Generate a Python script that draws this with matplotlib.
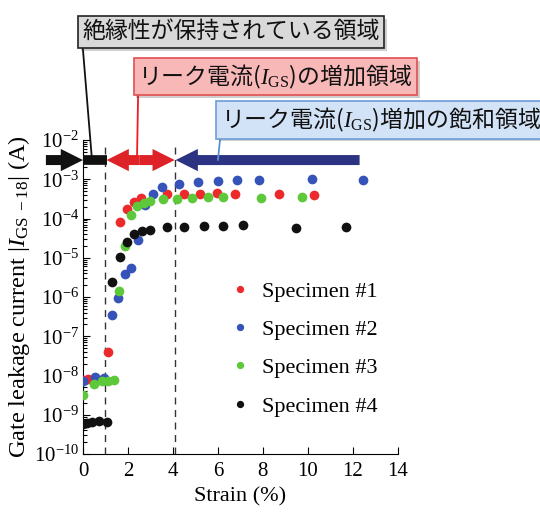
import numpy as np
import matplotlib
matplotlib.use('Agg')
import matplotlib.pyplot as plt
import matplotlib.patheffects as pe
from matplotlib.patches import FancyArrowPatch
from matplotlib.ticker import LogLocator, NullFormatter, FixedLocator

plt.rcParams['font.family'] = ['Liberation Serif', 'DejaVu Serif']
plt.rcParams['mathtext.fontset'] = 'custom'
plt.rcParams['mathtext.rm'] = 'Liberation Serif'
plt.rcParams['mathtext.it'] = 'Liberation Serif:italic'

# strain (%) and log10 of leakage current
s1_x = [0.0, 0.22, 0.55, 0.9, 1.10, 1.66, 1.96, 2.27, 2.56, 3.75, 4.49, 5.21, 5.97, 6.76, 8.71, 10.27]
s1_y = [-8.12, -8.1, -8.08, -8.08, -7.39, -4.10, -3.76, -3.57, -3.47, -3.38, -3.38, -3.37, -3.36, -3.37, -3.38, -3.39]
s2_x = [0.01, 0.53, 0.93, 1.30, 1.54, 1.85, 2.13, 2.44, 2.77, 3.11, 3.50, 4.28, 5.11, 6.0, 6.87, 7.84, 10.19, 12.44]
s2_y = [-8.15, -8.04, -8.06, -6.45, -6.03, -5.41, -5.25, -4.54, -3.65, -3.37, -3.20, -3.11, -3.08, -3.04, -3.03, -3.02, -2.99, -3.02]
s3_x = [0.01, 0.50, 0.83, 1.12, 1.38, 1.61, 1.87, 2.13, 2.41, 2.70, 2.98, 3.57, 4.16, 4.86, 5.54, 6.21, 7.91, 9.75]
s3_y = [-8.49, -8.21, -8.15, -8.15, -8.12, -5.84, -4.71, -3.92, -3.67, -3.61, -3.55, -3.50, -3.50, -3.48, -3.46, -3.44, -3.48, -3.44]
s4_x = [0.0, 0.16, 0.41, 0.71, 1.05, 1.30, 1.64, 1.96, 2.28, 2.61, 2.98, 3.72, 4.50, 5.36, 6.22, 7.12, 9.45, 11.68]
s4_y = [-9.23, -9.21, -9.18, -9.15, -9.19, -5.62, -4.97, -4.60, -4.40, -4.33, -4.29, -4.22, -4.21, -4.20, -4.19, -4.16, -4.24, -4.21]

names = ['Specimen #1', 'Specimen #2', 'Specimen #3', 'Specimen #4']
colors = ['#ec2a2c', '#3553b8', '#5cc83a', '#111111']

fig = plt.figure(figsize=(5.4, 5.13), dpi=100)
ax = fig.add_axes([0.1537, 0.115, 0.583, 0.612])

series = [(s1_x, s1_y), (s2_x, s2_y), (s3_x, s3_y), (s4_x, s4_y)]
for (xs, ys), c, n in zip(series, colors, names):
    ax.plot(xs, 10.0 ** np.array(ys), 'o', color=c, ms=7, mec='none', label=n, zorder=3)

ax.set_yscale('log')
ax.set_xlim(0, 14)
ax.set_ylim(1e-10, 1e-2)
ax.xaxis.set_major_locator(FixedLocator(np.arange(0, 15, 2)))
ax.yaxis.set_major_locator(FixedLocator(10.0 ** np.arange(-10, -1)))
ax.set_yticklabels([r'$\mathregular{10^{%d}}$' % e for e in range(-10, -1)])
ax.yaxis.set_minor_locator(LogLocator(base=10, subs=np.arange(2, 10), numticks=20))
ax.yaxis.set_minor_formatter(NullFormatter())
ax.tick_params(which='both', direction='in', labelsize=15, width=0.8)
ax.tick_params(which='major', length=5)
ax.tick_params(which='minor', length=3)
ax.tick_params(axis='y', pad=3)
ax.tick_params(axis='x', pad=6)
for sp in ['top', 'right']:
    ax.spines[sp].set_visible(False)

ax.set_xlabel('Strain (%)', fontsize=16, labelpad=4)
ax.set_ylabel(r'Gate leakage current $|I_{\mathrm{GS\ -18}}|$ (A)', fontsize=17.5, labelpad=1)

# region boundaries
for xv in [1.0, 4.1]:
    ax.axvline(xv, ymin=0, ymax=0.978, color='#333333', lw=1.0, ls=(0, (5, 4)), zorder=1)

y0 = 10 ** -2.51
def arrow(x_from, x_to, col):
    p = FancyArrowPatch((x_from, y0), (x_to, y0),
                        arrowstyle='simple,head_width=1.0,head_length=1.0,tail_width=0.45',
                        mutation_scale=16, color=col, lw=0, clip_on=False, zorder=4,
                        shrinkA=0, shrinkB=0)
    ax.add_patch(p)

arrow(-1.65, 0.0, '#111111')
ax.plot([0, 1.05], [y0, y0], color='#111111', lw=7, solid_capstyle='butt', clip_on=False, zorder=4)
arrow(2.5, 1.05, '#dd2327')
arrow(2.5, 4.08, '#dd2327')
arrow(12.3, 4.12, '#2c3382')

ax.legend(loc='center left', bbox_to_anchor=(0.40, 0.335), frameon=False, fontsize=16,
          markerscale=0.75, handletextpad=0.5, labelspacing=0.8, handlelength=1.0)

# region labels
jp = ['Noto Sans CJK JP', 'DejaVu Sans']
boxes = [
    ('絶縁性が保持されている領域', (0.428, 0.938), '#d9d9d9', '#222222', 0.4, '#111111'),
    ('リーク電流($I_{\\mathrm{GS}}$)の増加領域', (0.51, 0.851), '#f9b8b8', '#e05050', 2.4, '#ee1c24'),
    ('リーク電流($I_{\\mathrm{GS}}$)増加の飽和領域', (0.705, 0.766), '#d3e3f7', '#6f9bd6', 6.0, '#5b8fd0'),
]
for txt, pos, fc, ec, xa, lc in boxes:
    ann = ax.annotate(txt, xy=(xa, y0), xycoords='data', xytext=pos, textcoords='figure fraction',
                      ha='center', va='center', fontsize=16.5, family=jp, color='#111111',
                      bbox=dict(boxstyle='square,pad=0.2', fc=fc, ec=ec, lw=1.2),
                      arrowprops=dict(arrowstyle='-', color=lc, lw=1.3, relpos=(0.0, 0.0),
                                      shrinkA=0, shrinkB=0),
                      annotation_clip=False, zorder=5)
    ann.get_bbox_patch().set_path_effects([pe.withSimplePatchShadow(offset=(2, -2), alpha=0.25)])

fig.savefig('out.png', dpi=100)
